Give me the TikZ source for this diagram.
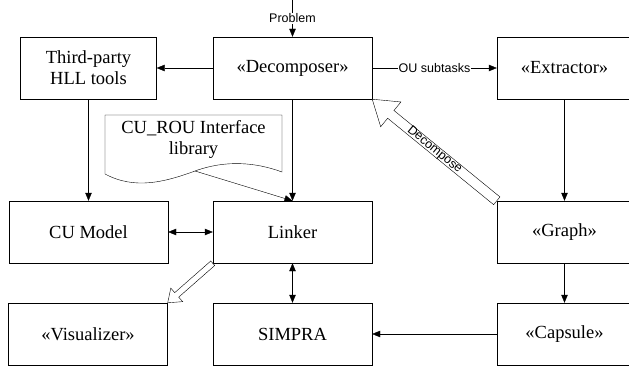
\documentclass[tikz,border=0pt]{standalone}
\usepackage{fontspec}
\setmainfont{Liberation Serif}
\newfontfamily\lblfont{Liberation Sans}
\usetikzlibrary{arrows.meta, calc}
\tikzset{>={Triangle[length=8pt,width=6.5pt]}, x=1pt, y=-1pt, line width=0.8pt,
  box/.style={rectangle, draw, align=center, minimum height=62pt, inner sep=2pt, font=\fontsize{18.5}{21}\selectfont},
  lbl/.style={font=\lblfont\fontsize{12.5}{14}\selectfont, fill=white, inner sep=1pt}}

% hollow block arrow: tail, tip, head length, head half width, shaft half width, text
\newcommand{\hollowarrow}[6]{%
  \draw[fill=white] let \p1=(#1), \p2=(#2), \n1={atan2(\y1-\y2,\x1-\x2)}, \n2={veclen(\x1-\x2,\y1-\y2)} in
    [shift={(\p2)}, rotate=\n1] (0pt,0pt) -- (#3pt,#4pt) -- (#3pt,#5pt) -- (\n2,#5pt)
    -- (\n2,-#5pt) -- (#3pt,-#5pt) -- (#3pt,-#4pt) -- cycle
    ({0.5*\n2},0pt) node[lbl, fill=none, rotate=\n1] {#6};}

\begin{document}
\begin{tikzpicture}
    \clip (0,0) rectangle (629,369);
    \node[box, minimum width=136pt] (tools) at (88.5,68) {Third-party\\HLL tools};
    \node[box, minimum width=159pt] (decomp) at (292.5,68) {«Decomposer»};
    \node[box, minimum width=135pt] (extract) at (564.5,68) {«Extractor»};
    \node[box, minimum width=159pt] (cumodel) at (88.5,232) {CU Model};
    \node[box, minimum width=159pt] (linker) at (292.5,232) {Linker};
    \node[box, minimum width=135pt] (graph) at (564.5,232) {«Graph»};
    \node[box, minimum width=159pt] (visual) at (88,334) {«Visualizer»};
    \node[box, minimum width=159pt] (simpra) at (292.5,334) {SIMPRA};
    \node[box, minimum width=135pt] (capsule) at (564.5,334) {«Capsule»};

    % interface library (document shape)
    \draw (105,115) -- (282,115) -- (282,172) .. controls (255,162) and (225,160) .. (195,171)
        .. controls (165,182) and (135,190) .. (105,174) -- cycle;
    \node[box, draw=none, minimum height=0pt] (library) at (193.5,139) {CU\_ROU Interface\\library};
    \coordinate (libout) at (195,171);
    \coordinate (input) at (292.5,0);

    \draw[->] (input) -- node[lbl]{Problem} (decomp);
    \draw[->] (decomp) -- node[lbl]{OU subtasks} (extract);
    \draw[->] (decomp) -- (tools);
    \draw[->] (tools) -- (cumodel);
    \draw[->] (decomp) -- (linker);
    \draw[->] (libout) -- (linker.north);
    \draw[<->] (cumodel) -- (linker);
    \draw[<->] (linker) -- (simpra);
    \draw[->] (extract) -- (graph);
    \draw[->] (graph) -- (capsule);
    \draw[->] (capsule) -- (simpra);

    \hollowarrow{graph.north west}{decomp.south east}{24}{16}{5}{Decompose}
    \hollowarrow{linker.south west}{visual.north east}{12}{9}{3}{}
\end{tikzpicture}
\end{document}
